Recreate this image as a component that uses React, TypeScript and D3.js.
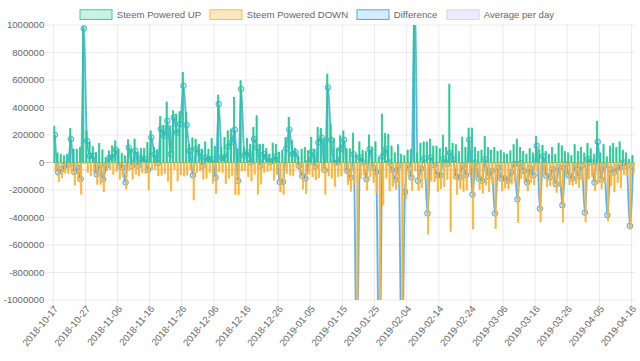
import * as d3 from "d3";

// daily categories, 2018-10-17 .. 2019-04-16 (one day absent in the source data)
const days: string[] = d3.timeDay
  .range(new Date(2018, 9, 17), new Date(2019, 3, 17))
  .map(d3.timeFormat("%Y-%m-%d"))
  .filter((d) => d !== "2019-04-10");

// values in thousands of STEEM
const poweredUp = [
  265, 70, 60, 50, 60, 247, 97, 97, 110, 985,
  230, 145, 115, 73, 138, 92, 36, 85, 121, 158,
  97, 68, 49, 165, 97, 170, 73, 102, 102, 145,
  230, 109, 92, 335, 272, 440, 267, 376, 352, 369,
  655, 364, 133, 180, 170, 133, 97, 150, 97, 175,
  116, 490, 109, 182, 230, 243, 473, 100, 595, 109,
  175, 133, 255, 340, 133, 133, 102, 61, 141, 133,
  73, 90, 182, 328, 158, 102, 48, 97, 109, 85,
  182, 97, 255, 248, 175, 643, 279, 175, 102, 194,
  230, 100, 100, 214, 60, 150, 90, 80, 200, 110,
  150, 40, 353, 210, 206, 120, 70, 130, 60, 50,
  90, 95, 1350, 70, 140, 150, 150, 170, 120, 120,
  100, 199, 110, 570, 140, 130, 80, 185, 110, 250,
  250, 110, 80, 90, 189, 110, 90, 110, 80, 90,
  70, 60, 85, 130, 170, 110, 80, 60, 100, 70,
  190, 97, 126, 80, 60, 110, 60, 140, 121, 80,
  70, 50, 130, 80, 110, 68, 140, 100, 60, 300,
  70, 130, 42, 120, 140, 110, 150, 90, 70, 24, 50,
];

const poweredDown = [
  -65, -140, -110, -75, -80, -77, -165, -133, -230, -10,
  -73, -97, -67, -158, -158, -212, -60, -49, -85, -66,
  -121, -104, -194, -56, -121, -85, -97, -73, -78, -198,
  -48, -49, -97, -92, -78, -137, -206, -48, -134, -90,
  -97, -92, -48, -272, -73, -60, -121, -114, -73, -151,
  -225, -65, -73, -153, -114, -98, -235, -233, -61, -56,
  -102, -133, -85, -231, -157, -72, -66, -56, -129, -85,
  -214, -231, -80, -90, -97, -29, -72, -194, -225, -85,
  -104, -126, -110, -68, -230, -97, -114, -175, -102, -97,
  -65, -160, -209, -154, -1600, -114, -90, -201, -103, -146,
  -218, -1700, -309, -113, -206, -173, -196, -154, -1650, -264,
  -109, -204, -60, -203, -184, -121, -520, -134, -139, -210,
  -192, -175, -122, -502, -116, -232, -189, -209, -200, -85,
  -483, -110, -196, -223, -165, -212, -150, -480, -116, -206,
  -186, -193, -158, -142, -437, -115, -141, -206, -144, -162,
  -69, -432, -82, -177, -169, -159, -218, -176, -432, -92,
  -162, -166, -154, -182, -134, -432, -116, -100, -206, -150,
  -191, -154, -425, -169, -213, -146, -186, -90, -94, -485, -79,
];

const averagePerDay = -52;

const legendItems = [
  { label: "Steem Powered UP", fill: "rgba(38,201,147,0.25)", stroke: "rgb(38,201,147)" },
  { label: "Steem Powered DOWN", fill: "rgba(255,178,50,0.3)", stroke: "rgb(255,178,50)" },
  { label: "Difference", fill: "rgba(54,162,235,0.2)", stroke: "rgb(54,162,235)" },
  { label: "Average per day", fill: "rgba(180,180,240,0.25)", stroke: "rgba(180,180,240,0.6)" },
];
const legendX = [80, 210, 357, 447];

const yTicks = d3.range(-1000000, 1000001, 200000);

const W = 640;
const H = 361;
const plot = { left: 53.3, right: 634.7, top: 25, bottom: 300 };
const font = "'Liberation Sans', Arial, Helvetica, sans-serif";

export default function App() {
  const x = d3.scaleBand<string>().domain(days).range([plot.left, plot.right]);
  const y = d3.scaleLinear().domain([-1000000, 1000000]).range([plot.bottom, plot.top]);
  const bw = x.bandwidth();
  const cx = (i: number) => (x(days[i]) as number) + bw / 2;

  const diff = poweredUp.map((u, i) => (u + poweredDown[i]) * 1000);
  const line = d3
    .line<number>()
    .x((_, i) => cx(i))
    .y((d) => y(d))
    .curve(d3.curveMonotoneX);
  const area = d3
    .area<number>()
    .x((_, i) => cx(i))
    .y0(y(0))
    .y1((d) => y(d))
    .curve(d3.curveMonotoneX);

  const bar = (v: number) => {
    const val = v * 1000;
    return { y: Math.min(y(val), y(0)), h: Math.abs(y(val) - y(0)) };
  };

  const labelIdx = d3.range(0, days.length, 10);

  return (
    <svg
      width={W}
      height={H}
      style={{ position: "absolute", left: 0, top: 0, background: "#fff" }}
      fontFamily={font}
    >
      <defs>
        <clipPath id="plot">
          <rect x={plot.left} y={plot.top} width={plot.right - plot.left} height={plot.bottom - plot.top} />
        </clipPath>
      </defs>

      {/* legend */}
      {legendItems.map((it, k) => (
        <g key={it.label}>
          <rect x={legendX[k]} y={9.8} width={32} height={9.6} fill={it.fill} stroke={it.stroke} strokeWidth={0.9} />
          <text x={legendX[k] + 36.8} y={14.6} dy="0.35em" fontSize={9.6} fill="#666">
            {it.label}
          </text>
        </g>
      ))}

      {/* horizontal grid + y labels */}
      {yTicks.map((t) => (
        <g key={t}>
          <line
            x1={plot.left - 8}
            x2={plot.right}
            y1={y(t)}
            y2={y(t)}
            stroke={t === 0 ? "rgba(0,0,0,0.25)" : "rgba(0,0,0,0.1)"}
            strokeWidth={0.8}
          />
          <text x={plot.left - 9} y={y(t)} dy="0.35em" textAnchor="end" fontSize={9.6} fill="#666">
            {String(t)}
          </text>
        </g>
      ))}

      {/* vertical grid + x labels */}
      {labelIdx.map((i) => (
        <g key={days[i]}>
          <line
            x1={x(days[i])}
            x2={x(days[i])}
            y1={plot.top}
            y2={plot.bottom + 8}
            stroke="rgba(0,0,0,0.1)"
            strokeWidth={0.8}
          />
          <text
            transform={`translate(${cx(i) + 1},${plot.bottom + 7}) rotate(-50)`}
            dy="0.35em"
            textAnchor="end"
            fontSize={9.6}
            fill="#666"
          >
            {days[i]}
          </text>
        </g>
      ))}

      <g clipPath="url(#plot)">
        {/* average per day */}
        <line
          x1={plot.left}
          x2={plot.right}
          y1={y(averagePerDay * 1000)}
          y2={y(averagePerDay * 1000)}
          stroke="rgba(180,180,240,0.5)"
          strokeWidth={1.5}
        />

        {/* difference */}
        <path d={area(diff) ?? ""} fill="rgba(54,162,235,0.15)" />
        <path d={line(diff) ?? ""} fill="none" stroke="rgba(54,162,235,0.8)" strokeWidth={1.8} />
        {diff.map((d, i) => (
          <circle
            key={i}
            cx={cx(i)}
            cy={y(d)}
            r={2.8}
            fill="rgba(54,162,235,0.25)"
            stroke="rgba(54,162,235,0.9)"
            strokeWidth={1}
          />
        ))}

        {/* powered down */}
        {poweredDown.map((v, i) => {
          const b = bar(v);
          return (
            <rect
              key={i}
              x={(x(days[i]) as number) + bw * 0.52}
              y={b.y}
              width={bw * 0.36}
              height={b.h}
              fill="rgb(255,178,50)"
              stroke="rgb(255,178,50)"
              strokeWidth={0.8}
            />
          );
        })}

        {/* powered up */}
        {poweredUp.map((v, i) => {
          const b = bar(v);
          return (
            <rect
              key={i}
              x={(x(days[i]) as number) + bw * 0.12}
              y={b.y}
              width={bw * 0.36}
              height={b.h}
              fill="rgb(38,201,147)"
              stroke="rgb(38,201,147)"
              strokeWidth={0.8}
            />
          );
        })}
      </g>
    </svg>
  );
}
